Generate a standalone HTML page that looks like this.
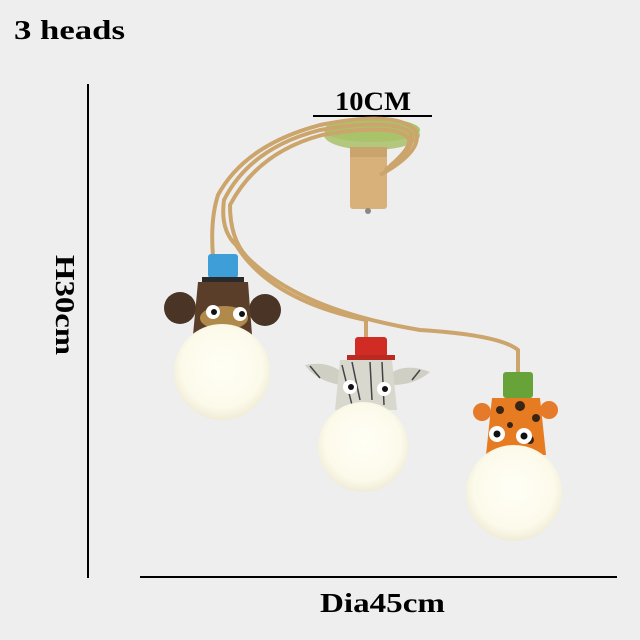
<!DOCTYPE html>
<html><head><style>
html,body{margin:0;padding:0;background:#eeeeee;}
svg{display:block;}
text{font-family:"Liberation Serif",serif;font-weight:bold;fill:#000;}
</style></head><body>
<svg width="640" height="640" viewBox="0 0 640 640" xmlns="http://www.w3.org/2000/svg">
<defs>
<radialGradient id="g" cx="0.5" cy="0.45" r="0.6">
<stop offset="0" stop-color="#fffff6"/><stop offset="0.7" stop-color="#fcfaea"/><stop offset="1" stop-color="#ebe6d0"/>
</radialGradient>
</defs>
<rect width="640" height="640" fill="#eeeeee"/>
<text x="14" y="39" font-size="27" textLength="111" lengthAdjust="spacingAndGlyphs">3 heads</text>
<line x1="88" y1="84" x2="88" y2="578" stroke="#000" stroke-width="2"/>
<text transform="translate(56,255) rotate(90)" font-size="27" textLength="100" lengthAdjust="spacingAndGlyphs">H30cm</text>
<line x1="140" y1="577" x2="617" y2="577" stroke="#000" stroke-width="2"/>
<text x="320" y="612" font-size="27" textLength="125" lengthAdjust="spacingAndGlyphs">Dia45cm</text>
<text x="335" y="110" font-size="26" textLength="76" lengthAdjust="spacingAndGlyphs">10CM</text>
<line x1="313" y1="116" x2="432" y2="116" stroke="#000" stroke-width="2"/>
<!-- canopy -->
<ellipse cx="372" cy="135" rx="48" ry="15" fill="#b4c77e"/>
<ellipse cx="372" cy="130" rx="48" ry="12" fill="#a9c36a"/>
<rect x="350" y="147" width="37" height="62" rx="3" fill="#d7b07a"/>
<rect x="350" y="147" width="37" height="10" fill="#c9a56d"/>
<circle cx="368" cy="211" r="3" fill="#888"/>
<!-- arms -->
<g fill="none" stroke="#cba56b" stroke-width="4">
<path d="M380 175 Q425 150 415 130 Q395 110 320 125 Q245 145 218 195 Q210 220 213 256"/>
<path d="M385 170 Q420 145 410 132 Q390 118 320 130 Q250 148 224 200 Q220 230 236 245 Q270 300 366 320 L366 338"/>
<path d="M390 166 Q418 142 405 135 Q385 124 322 135 Q258 152 230 205 Q230 240 248 258 Q300 310 420 330 Q500 335 518 350 L518 373"/>
</g>
<!-- monkey -->
<circle cx="180" cy="308" r="16" fill="#4a3426"/>
<circle cx="265" cy="310" r="16" fill="#4a3426"/>
<path d="M198 282 L248 282 L252 335 L193 335 Z" fill="#5a3e2a"/>
<ellipse cx="224" cy="318" rx="24" ry="12" fill="#b08a4a"/>
<circle cx="213" cy="312" r="7" fill="#fff"/><circle cx="214" cy="312" r="3" fill="#111"/>
<circle cx="240" cy="314" r="7" fill="#fff"/><circle cx="242" cy="314" r="3" fill="#111"/>
<rect x="208" y="254" width="30" height="24" rx="3" fill="#3e9fd8"/>
<rect x="202" y="277" width="42" height="5" fill="#2a2a2a"/>
<circle cx="222" cy="372" r="48" fill="url(#g)"/>
<!-- zebra -->
<path d="M305 365 Q330 360 345 375 L340 385 Q315 380 305 365 Z" fill="#cfcfc4"/>
<path d="M430 372 Q405 362 388 375 L392 385 Q415 385 430 372 Z" fill="#cfcfc4"/>
<path d="M340 360 L392 360 L397 410 L335 410 Z" fill="#d8d8cf"/>
<g stroke="#444" stroke-width="1.5">
<line x1="342" y1="365" x2="352" y2="405"/><line x1="352" y1="362" x2="360" y2="400"/><line x1="370" y1="362" x2="372" y2="400"/><line x1="382" y1="362" x2="384" y2="405"/><line x1="310" y1="366" x2="320" y2="378"/><line x1="420" y1="370" x2="412" y2="380"/>
</g>
<circle cx="350" cy="387" r="7" fill="#fff"/><circle cx="351" cy="387" r="3" fill="#111"/>
<circle cx="384" cy="389" r="7" fill="#fff"/><circle cx="385" cy="389" r="3" fill="#111"/>
<rect x="355" y="337" width="32" height="20" rx="3" fill="#d12c24"/>
<rect x="347" y="355" width="48" height="5" fill="#b82a22"/>
<circle cx="363" cy="447" r="45" fill="url(#g)"/>
<!-- giraffe -->
<circle cx="482" cy="412" r="9" fill="#e57a2a"/>
<circle cx="549" cy="410" r="9" fill="#e57a2a"/>
<path d="M492 398 L540 398 L546 455 L486 455 Z" fill="#e77b22"/>
<g fill="#3a2515"><circle cx="500" cy="410" r="4"/><circle cx="520" cy="406" r="5"/><circle cx="536" cy="418" r="4"/><circle cx="530" cy="440" r="4"/><circle cx="510" cy="425" r="3"/></g>
<circle cx="497" cy="434" r="8" fill="#fff"/><circle cx="497" cy="434" r="3.5" fill="#111"/>
<circle cx="524" cy="436" r="8" fill="#fff"/><circle cx="524" cy="436" r="3.5" fill="#111"/>
<rect x="503" y="372" width="30" height="26" rx="3" fill="#68a33a"/>
<circle cx="514" cy="493" r="48" fill="url(#g)"/>
</svg>
</body></html>
